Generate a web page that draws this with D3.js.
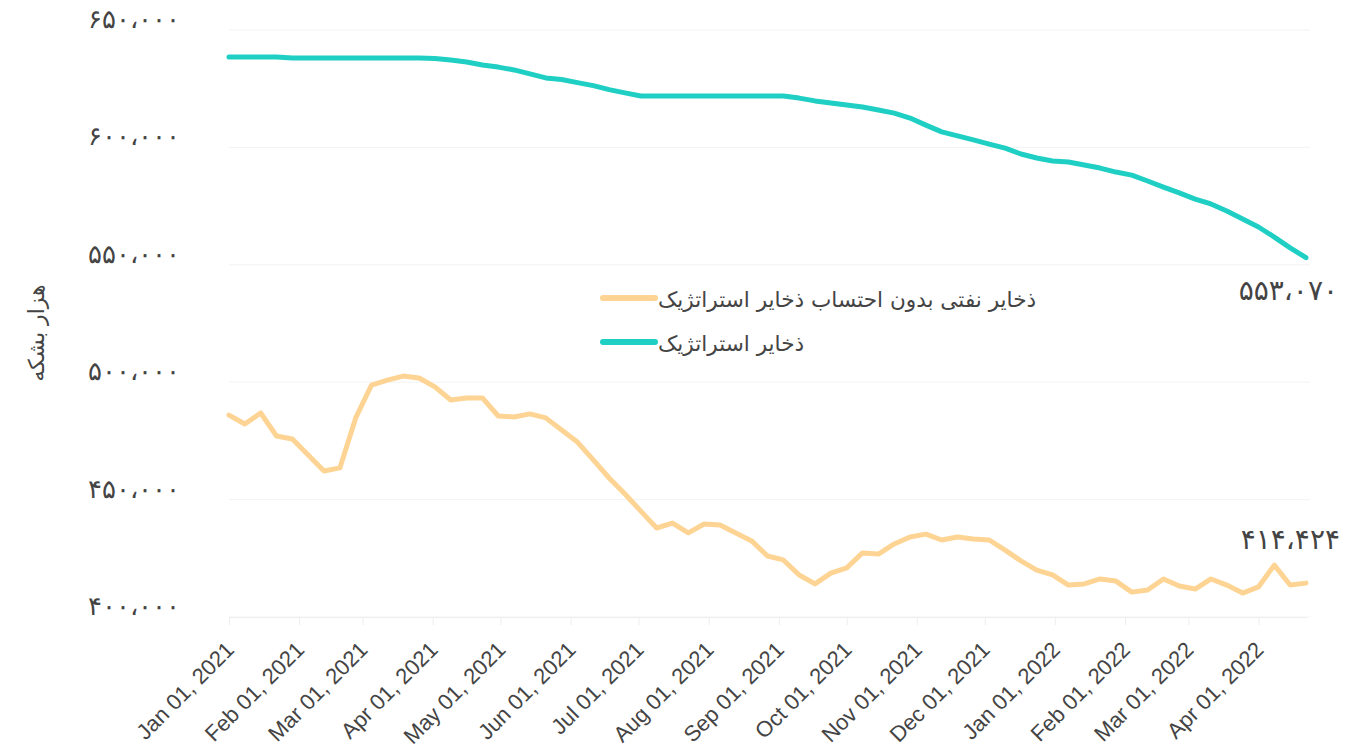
<!DOCTYPE html>
<html>
<head>
<meta charset="utf-8">
<script src="https://cdn.jsdelivr.net/npm/d3@7"></script>
<style>
  body { margin: 0; background: #fff; }
  svg { display: block; font-family: 'DejaVu Sans', sans-serif; }
  .x-axis text { font-family: 'Liberation Sans', Arial, sans-serif; }
</style>
</head>
<body>
<div id="chart"></div>
<script>
// weekly reading, every Friday from Jan 01, 2021
const START = '2021-01-01'
const WEEKS = 69

// ذخایر استراتژیک (thousand barrels)
const strategic = [
  638.5, 638.5, 638.5, 638.5,
  638.1, 638.1, 638.1, 638.1, 638.1, 638.1, 638.1, 638.1, 638.1,
  637.9, 637.2, 636.4, 635.1, 634.2, 633.0, 631.3, 629.6, 628.9, 627.6, 626.3, 624.6, 623.2,
  621.9, 621.9, 621.9, 621.9, 621.9, 621.9, 621.9, 621.9, 621.9, 621.9,
  621.0, 619.8, 618.9, 618.1, 617.2, 615.9, 614.6, 612.5, 609.5, 606.6, 604.9,
  603.2, 601.4, 599.7, 597.2, 595.5, 594.2, 593.8, 592.5, 591.2, 589.5, 588.2,
  585.7, 583.1, 580.6, 578.0, 575.9, 572.9, 569.5, 566.1, 561.8, 557.2, 553.07
]

// ذخایر نفتی بدون احتساب ذخایر استراتژیک (thousand barrels)
const commercial = [
  486.0, 482.2, 486.9, 477.1, 475.8, 469.0, 462.2, 463.5, 484.8, 498.8,
  500.9, 502.6, 501.8, 498.0, 492.4, 493.3, 493.3, 485.6, 485.2, 486.5,
  484.8, 479.6, 474.5, 466.9, 459.2, 452.4, 445.1, 437.9, 440.0, 435.8,
  439.6, 439.2, 435.8, 432.4, 426.0, 424.3, 417.9, 414.1, 418.7, 420.9,
  427.3, 426.8, 431.1, 434.1, 435.3, 432.8, 434.1, 433.2, 432.8, 428.5,
  423.9, 420.0, 417.9, 413.6, 414.1, 416.2, 415.3, 410.6, 411.5, 416.2,
  413.2, 411.9, 416.2, 413.6, 410.2, 412.8, 422.1, 413.6, 414.424
]

const yTicks = [400000, 450000, 500000, 550000, 600000, 650000]
const seriesNames = ['ذخایر نفتی بدون احتساب ذخایر استراتژیک', 'ذخایر استراتژیک']
const yTitle = 'هزار بشکه'

const COLORS = { commercial: '#fed494', strategic: '#1fcfc4' }

const faDigits = '۰۱۲۳۴۵۶۷۸۹'
const toFa = v => d3.format(',')(v).replace(/\d/g, c => faDigits[+c]).replace(/,/g, '،')

const width = 1347
const height = 749
const margin = { top: 30, right: 41, bottom: 132, left: 229 }
const innerW = width - margin.left - margin.right
const innerH = height - margin.top - margin.bottom

const start = d3.isoParse(START + 'T00:00:00')
const dates = d3.range(WEEKS).map(i => d3.timeDay.offset(start, i * 7))

const x = d3.scaleTime().domain(d3.extent(dates)).range([0, innerW])
const y = d3.scaleLinear().domain([400000, 650000]).range([innerH, 0])

const svg = d3.select('#chart').append('svg')
  .attr('width', width)
  .attr('height', height)

const g = svg.append('g').attr('transform', `translate(${margin.left},${margin.top})`)

// Grid
g.append('g')
  .selectAll('line').data(yTicks).join('line')
  .attr('x1', 0).attr('x2', innerW + 4)
  .attr('y1', d => y(d)).attr('y2', d => y(d))
  .attr('stroke', '#f3f3f3')
  .attr('stroke-width', 1)

// Y labels
const yAxis = g.append('g')
  .call(d3.axisLeft(y).tickValues(yTicks).tickSize(0).tickPadding(49).tickFormat(toFa))
yAxis.select('.domain').remove()
yAxis.selectAll('text')
  .attr('dy', '-0.1em')
  .attr('fill', '#444')
  .attr('font-size', '26px')

// X axis
const xAxis = g.append('g').attr('class', 'x-axis')
  .attr('transform', `translate(0,${innerH})`)
  .call(d3.axisBottom(x).ticks(d3.timeMonth.every(1)).tickFormat(d3.timeFormat('%b %d, %Y')).tickSize(8).tickSizeOuter(0))
xAxis.select('.domain').attr('stroke', '#eeeeee')
xAxis.selectAll('.tick line').attr('stroke', '#eeeeee')
xAxis.selectAll('text')
  .attr('x', 0).attr('y', 0).attr('dy', 0)
  .attr('fill', '#444')
  .attr('font-size', '22px')
  .attr('text-anchor', 'end')
  .attr('transform', 'translate(6,34) rotate(-45)')

// Y title
g.append('text')
  .attr('transform', 'rotate(-90)')
  .attr('x', -(333 - margin.top))
  .attr('y', 36 - margin.left)
  .attr('dy', '0.35em')
  .attr('text-anchor', 'middle')
  .attr('fill', '#444')
  .attr('font-size', '22px')
  .text(yTitle)

const line = d3.line().x((d, i) => x(dates[i])).y(d => y(d * 1000))

const series = [
  { key: 'commercial', values: commercial, name: seriesNames[0] },
  { key: 'strategic', values: strategic, name: seriesNames[1] }
]

series.forEach(s => {
  g.append('path')
    .datum(s.values)
    .attr('fill', 'none')
    .attr('stroke', COLORS[s.key])
    .attr('stroke-width', 5)
    .attr('stroke-linejoin', 'round')
    .attr('stroke-linecap', 'round')
    .attr('d', line)
})

// End labels
const lastIdx = WEEKS - 1
g.append('text')
  .attr('x', x(dates[lastIdx]) + 32)
  .attr('y', y(strategic[lastIdx] * 1000) + 42)
  .attr('text-anchor', 'end')
  .attr('fill', '#444')
  .attr('font-size', '28px')
  .text(toFa(Math.round(strategic[lastIdx] * 1000)))

g.append('text')
  .attr('x', x(dates[lastIdx]) + 34)
  .attr('y', y(commercial[lastIdx] * 1000) - 34)
  .attr('text-anchor', 'end')
  .attr('fill', '#444')
  .attr('font-size', '28px')
  .text(toFa(Math.round(commercial[lastIdx] * 1000)))

// Legend
const legend = svg.append('g').attr('transform', 'translate(600,298)')
series.forEach((s, i) => {
  const row = legend.append('g').attr('transform', `translate(0,${i * 44})`)
  row.append('line')
    .attr('x1', 3).attr('x2', 55)
    .attr('stroke', COLORS[s.key])
    .attr('stroke-width', 6)
    .attr('stroke-linecap', 'round')
  row.append('text')
    .attr('x', 58)
    .attr('dy', '0.4em')
    .attr('fill', '#444')
    .attr('font-size', '21.6px')
    .text(s.name)
})
</script>
</body>
</html>
